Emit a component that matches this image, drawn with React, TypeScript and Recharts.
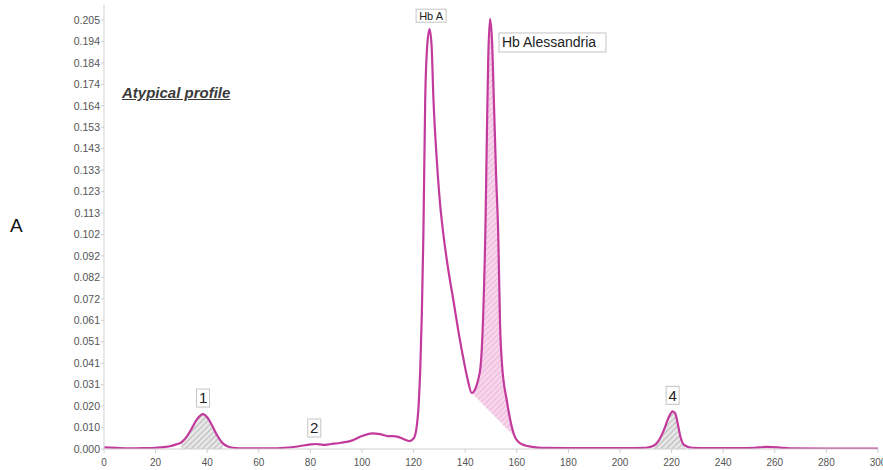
import React from 'react';
import { ComposedChart, Line, Area, XAxis, YAxis, ReferenceDot } from 'recharts';

const retentionTime = [
  0, 5, 10, 15, 20, 25, 28, 30, 32, 34, 36, 38.4, 40, 42, 44, 46, 48, 50, 55, 60, 65, 70, 75, 80, 82, 85, 88, 92, 96,
  100, 104, 107, 110, 112, 114, 116, 118.5, 120, 121, 122, 122.6, 123.2, 123.8, 124.5, 125.3, 126.2, 127, 127.7, 129,
  130.2, 131.5, 133.4, 135.4, 137.4, 139.4, 141, 142.5, 144, 145, 146, 147, 147.9, 148.4, 148.9, 149.6, 150.4, 151.1,
  152, 152.8, 153.5, 154.3, 156.1, 157.8, 159.3, 161, 163, 166, 170, 180, 190, 200, 210, 213, 215, 217, 219, 220.4,
  221.4, 222.4, 223.4, 225, 228, 235, 245, 252, 257, 262, 266, 280, 290, 300,
];

const signal = [
  0.0008, 0.0005, 0.0003, 0.0004, 0.0006, 0.0012, 0.0022, 0.0032, 0.0058, 0.0098, 0.0142, 0.0167, 0.0152, 0.011,
  0.0062, 0.0028, 0.0012, 0.0006, 0.0003, 0.0003, 0.0003, 0.0006, 0.0012, 0.0022, 0.0024, 0.002, 0.0024, 0.003, 0.004,
  0.0062, 0.0075, 0.0071, 0.0062, 0.0062, 0.0058, 0.0048, 0.0038, 0.005, 0.009, 0.022, 0.039, 0.065, 0.103, 0.167,
  0.193, 0.2006, 0.192, 0.167, 0.138, 0.118, 0.103, 0.086, 0.0712, 0.056, 0.0425, 0.033, 0.0268, 0.029, 0.033, 0.04,
  0.065, 0.11, 0.15, 0.185, 0.2055, 0.195, 0.167, 0.13, 0.103, 0.06, 0.04, 0.0234, 0.012, 0.0057, 0.003, 0.0018, 0.001,
  0.0005, 0.0004, 0.0004, 0.0004, 0.0006, 0.0015, 0.004, 0.009, 0.0155, 0.018, 0.017, 0.012, 0.006, 0.0018, 0.0006,
  0.0004, 0.0004, 0.0006, 0.001, 0.0007, 0.0003, 0.0002, 0.0002, 0.0002,
];

const xTicks = [0, 20, 40, 60, 80, 100, 120, 140, 160, 180, 200, 220, 240, 260, 280, 300];
const yTickLabels = [
  '0.000', '0.010', '0.020', '0.031', '0.041', '0.051', '0.061', '0.072', '0.082', '0.092', '0.102',
  '0.113', '0.123', '0.133', '0.143', '0.153', '0.164', '0.174', '0.184', '0.194', '0.205',
];

const grayPeakWindows = [
  [30, 46],
  [213, 225],
];

const alessandriaBaseX = [
  142.5, 144, 145, 146, 147, 147.9, 148.4, 148.9, 149.6, 150.4, 151.1, 152, 152.8, 153.5, 154.3, 156.1, 157.8, 159.3,
];
const alessandriaBase = [
  0.0268, 0.0249, 0.0237, 0.0224, 0.0211, 0.02, 0.0194, 0.0187, 0.0178, 0.0168, 0.016, 0.0148, 0.0138, 0.013, 0.012,
  0.0097, 0.0076, 0.0057,
];

const smallPeakLabels = [
  { text: '1', x: 38.4, y: 0.0167 },
  { text: '2', x: 81.5, y: 0.0024 },
  { text: '4', x: 220.4, y: 0.018 },
];
const hbALabel = { text: 'Hb A', x: 126.2, y: 0.2006 };
const hbAlessandriaLabel = { text: 'Hb Alessandria', x: 149.6, y: 0.2055 };

const Y_STEP = 0.205 / 20;
const Y_MAX = 0.21217;
const yTicks = yTickLabels.map((_, i) => i * Y_STEP);

const data = retentionTime.map((x, i) => {
  const y = signal[i];
  const inGray = grayPeakWindows.some(([a, b]) => x >= a && x <= b);
  const bi = alessandriaBaseX.indexOf(x);
  return {
    x,
    y,
    gray: inGray ? y : undefined,
    pink: bi >= 0 ? [alessandriaBase[bi], y] : undefined,
  };
});

const FONT = '"Liberation Sans", Arial, Helvetica, sans-serif';
const LINE = '#c23a9c';

const boxLabel = (text: string, dx: number, dy: number, w: number, h: number, fs: number, anchor: 'middle' | 'start') =>
  (props: any) => {
    const { cx, cy } = props;
    if (cx == null || cy == null) return <g />;
    const left = anchor === 'middle' ? cx + dx - w / 2 : cx + dx;
    const top = anchor === 'middle' ? cy + dy - h / 2 : cy + dy;
    return (
      <g>
        <rect x={left} y={top} width={w} height={h} fill="#ffffff" stroke="#c4c4c4" strokeWidth={1} />
        <text
          x={anchor === 'middle' ? left + w / 2 : left + 3}
          y={top + h / 2}
          dy="0.36em"
          textAnchor={anchor}
          fontSize={fs}
          fontFamily={FONT}
          fill="#222"
        >
          {text}
        </text>
      </g>
    );
  };

export default function App() {
  return (
    <div style={{ position: 'absolute', left: 0, top: 0, width: 883, height: 470, background: '#fff' }}>
      <ComposedChart
        width={883}
        height={470}
        data={data}
        margin={{ top: 5, right: 5, bottom: 0, left: 40 }}
      >
        <defs>
          <pattern id="grayHatch" width="4" height="4" patternUnits="userSpaceOnUse" patternTransform="rotate(45)">
            <rect width="4" height="4" fill="#e6e6e6" />
            <line x1="0" y1="0" x2="0" y2="4" stroke="#a9a9a9" strokeWidth="1.4" />
          </pattern>
          <pattern id="pinkHatch" width="4" height="4" patternUnits="userSpaceOnUse" patternTransform="rotate(45)">
            <rect width="4" height="4" fill="#f7d6ec" />
            <line x1="0" y1="0" x2="0" y2="4" stroke="#eaa9d4" strokeWidth="1.4" />
          </pattern>
        </defs>
        <XAxis
          dataKey="x"
          type="number"
          domain={[0, 300]}
          ticks={xTicks}
          interval={0}
          height={21}
          stroke="#cfcfcf"
          tickSize={4}
          tickMargin={6}
          tick={{ fontSize: 10, fill: '#555', fontFamily: FONT }}
          allowDataOverflow
        />
        <YAxis
          type="number"
          domain={[0, Y_MAX]}
          ticks={yTicks}
          interval={0}
          width={64}
          stroke="#cfcfcf"
          tickSize={3}
          tickMargin={1}
          tick={{ fontSize: 10.5, fill: '#555', fontFamily: FONT }}
          tickFormatter={(v: number) => yTickLabels[Math.round(v / Y_STEP)] ?? ''}
          allowDataOverflow
        />
        <Area
          type="monotone"
          dataKey="gray"
          stroke="none"
          fill="url(#grayHatch)"
          fillOpacity={1}
          isAnimationActive={false}
          connectNulls={false}
          activeDot={false}
        />
        <Area
          type="monotone"
          dataKey="pink"
          stroke="none"
          fill="url(#pinkHatch)"
          fillOpacity={1}
          isAnimationActive={false}
          connectNulls={false}
          activeDot={false}
        />
        <Line
          type="monotone"
          dataKey="y"
          stroke={LINE}
          strokeWidth={2.2}
          dot={false}
          activeDot={false}
          isAnimationActive={false}
        />
        {smallPeakLabels.map((p) => (
          <ReferenceDot
            key={p.text}
            x={p.x}
            y={p.y}
            r={0}
            shape={boxLabel(p.text, 0, -16, 13, 18, 15, 'middle')}
          />
        ))}
        <ReferenceDot
          x={hbALabel.x}
          y={hbALabel.y}
          r={0}
          shape={boxLabel(hbALabel.text, 1.5, -13.5, 30, 13, 11, 'middle')}
        />
        <ReferenceDot
          x={hbAlessandriaLabel.x}
          y={hbAlessandriaLabel.y}
          r={0}
          shape={boxLabel(hbAlessandriaLabel.text, 9, 14, 107, 19, 14, 'start')}
        />
      </ComposedChart>
      <div
        style={{
          position: 'absolute',
          left: 122,
          top: 84,
          fontFamily: FONT,
          fontSize: 15,
          fontStyle: 'italic',
          fontWeight: 'bold',
          textDecoration: 'underline',
          color: '#3a3a3a',
          whiteSpace: 'nowrap',
        }}
      >
        Atypical profile
      </div>
      <div
        style={{
          position: 'absolute',
          left: 10,
          top: 216,
          fontFamily: FONT,
          fontSize: 19,
          lineHeight: '19px',
          color: '#111',
        }}
      >
        A
      </div>
    </div>
  );
}
